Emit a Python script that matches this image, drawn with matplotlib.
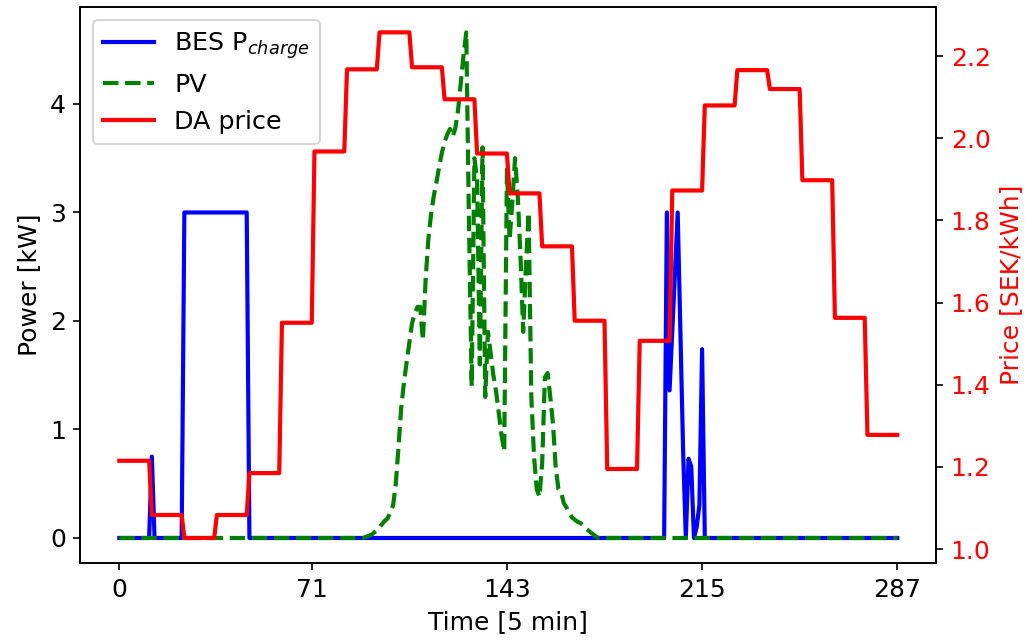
import numpy as np
import matplotlib
matplotlib.use("Agg")
import matplotlib.pyplot as plt

# 288 five-minute steps in one day
n_steps = 288
time = np.arange(n_steps)

# day-ahead price per hour [SEK/kWh], 12 steps each
price_hourly = [1.215, 1.083, 1.027, 1.083, 1.185, 1.551, 1.968, 2.168,
                2.258, 2.173, 2.095, 1.963, 1.866, 1.737, 1.556, 1.195,
                1.507, 1.873, 2.080, 2.166, 2.120, 1.898, 1.563, 1.278]

# battery charging power [kW], zero except at these steps
bes_steps = [12] + list(range(24, 48)) + [202, 203, 204, 205, 206, 207, 208,
                                          210, 211, 213, 214, 215]
bes_values = [0.75] + [3.0] * 24 + [3.0, 1.36, 1.9, 2.45, 3.0, 1.9, 0.8,
                                    0.73, 0.66, 0.1, 0.3, 1.74]

# PV production [kW] from step 90 onwards, zero elsewhere
pv_start = 90
pv_values = [0.0, 0.01, 0.02, 0.03, 0.05, 0.07, 0.1, 0.13, 0.16, 0.18,
             0.24, 0.3, 0.5, 0.84, 1.2, 1.43, 1.62, 1.8, 1.98, 2.07,
             2.13, 2.13, 1.82, 2.38, 2.75, 2.98, 3.15, 3.28, 3.42, 3.55,
             3.65, 3.72, 3.77, 3.70, 3.78, 3.95, 4.2, 4.45, 4.66, 2.9,
             1.4, 3.5, 3.3, 1.6, 3.6, 1.3, 1.9, 1.7, 1.5, 1.35,
             1.15, 0.95, 0.8, 3.4, 2.75, 3.1, 3.5, 3.15, 2.6, 1.9,
             2.5, 3.0, 1.3, 0.75, 0.45, 0.38, 0.69, 1.48, 1.52, 1.3,
             1.05, 0.65, 0.45, 0.42, 0.32, 0.28, 0.23, 0.19, 0.17, 0.15,
             0.14, 0.12, 0.09, 0.07, 0.05, 0.03, 0.01, 0.0]

price = np.repeat(price_hourly, 12)
bes = np.zeros(n_steps)
bes[bes_steps] = bes_values
pv = np.zeros(n_steps)
pv[pv_start:pv_start + len(pv_values)] = pv_values

fig, ax = plt.subplots(figsize=(1031 / 150, 643 / 150), dpi=150)
fig.subplots_adjust(left=0.078, right=0.908, top=0.989, bottom=0.124)

l1, = ax.plot(time, bes, color="blue", lw=2, label=r"BES P$_{charge}$")
l2, = ax.plot(time, pv, color="green", linestyle="--", lw=2, label="PV")
ax.set_xlabel("Time [5 min]", fontsize=12)
ax.set_ylabel("Power [kW]", fontsize=12)
ticks = np.linspace(0, n_steps - 1, 5).astype(int)
ax.set_xticks(ticks)
ax.tick_params(labelsize=12)

ax2 = ax.twinx()
l3, = ax2.plot(time, price, color="red", lw=2, label="DA price")
ax2.set_ylabel("Price [SEK/kWh]", color="red", fontsize=12)
ax2.tick_params(axis="y", labelcolor="red", labelsize=12)

ax.legend(handles=[l1, l2, l3], loc="upper left", fontsize=12.2)

fig.savefig("out.png", dpi=150)
